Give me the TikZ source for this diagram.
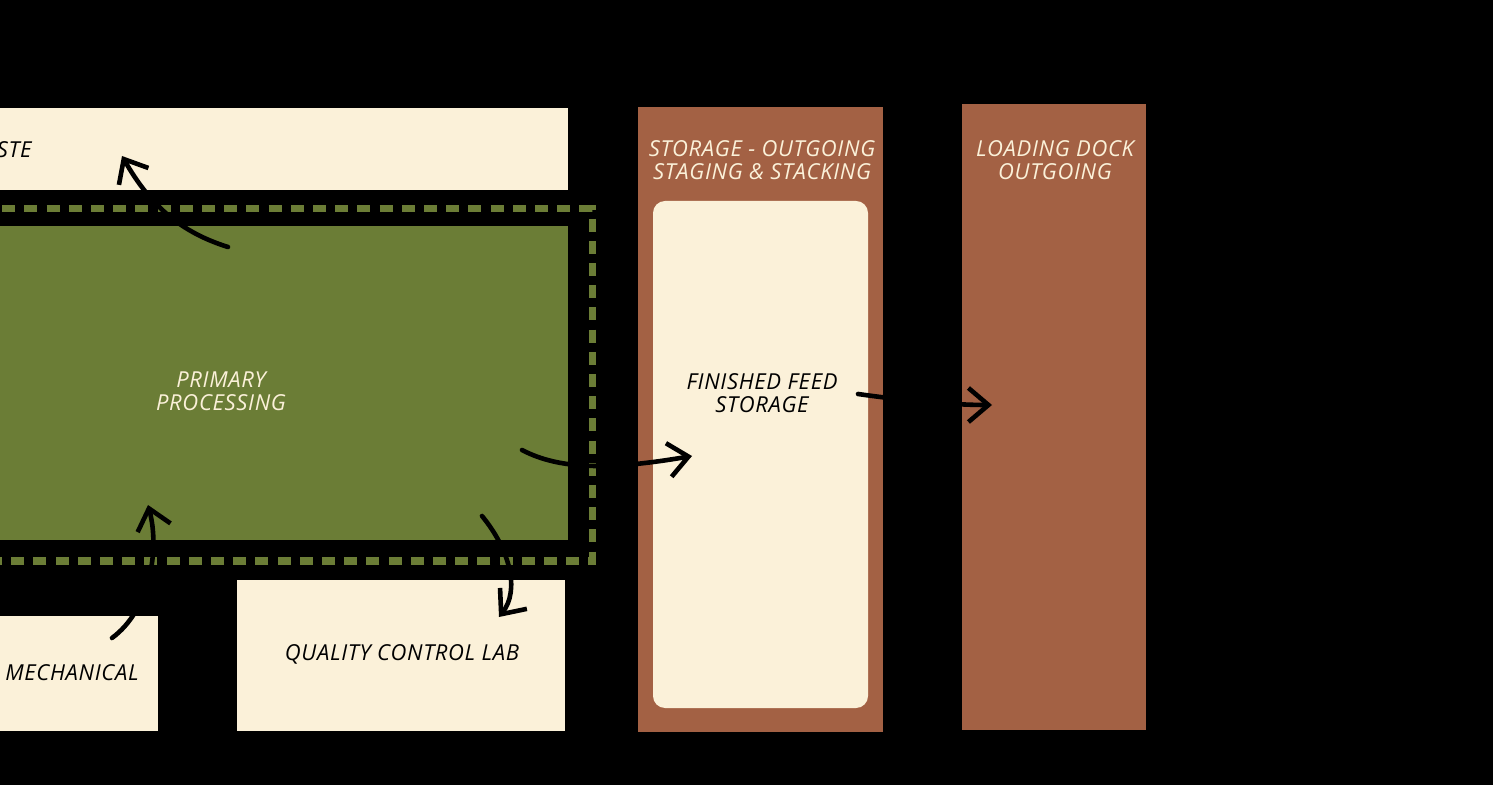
\documentclass[tikz,border=0pt]{standalone}
\usepackage{fontspec}
\setmainfont{Open Sans}[LetterSpace=3]
\usetikzlibrary{arrows.meta}
\definecolor{cream}{RGB}{251,241,217}
\definecolor{pgreen}{RGB}{107,125,54}
\definecolor{pbrown}{RGB}{163,97,68}
\tikzset{
  area/.style={fill=cream, draw=none},
  brownarea/.style={fill=pbrown, draw=none},
  lbl/.style={font=\itshape\fontsize{11}{11.6}\selectfont, align=center, text=black, inner sep=0pt},
  wlbl/.style={lbl, text=cream},
  flow/.style={line width=2.3pt, black, line cap=round,
    -{Straight Barb[length=10pt,width=17pt,line width=2.3pt]}},
}
\begin{document}
\begin{tikzpicture}[x=0.5pt,y=-0.5pt]
\fill[black] (0,0) rectangle (1493,785);
\useasboundingbox (0,0) rectangle (1493,785);
\clip (0,0) rectangle (1493,785);
% waste
\fill[area] (-10,108) rectangle (568,190);
\node[lbl, anchor=base east] (waste) at (32,158) {WASTE};
% processing
\fill[pgreen] (-10,226) rectangle (568,540);
\draw[pgreen, line width=3.5pt, dash pattern=on 6.5pt off 4.6pt] (-20,209) -- (592,209) -- (592,561) -- (-20,561);
\node[wlbl] (proc) at (221,391) {PRIMARY\\PROCESSING};
% mechanical
\fill[area] (-10,616) rectangle (158,731);
\node[lbl] (mech) at (72,673) {MECHANICAL};
% QC
\fill[area] (237,580) rectangle (565,731);
\node[lbl] (qc) at (402,654) {QUALITY CONTROL LAB};
% storage
\fill[brownarea] (638,107) rectangle (883,732);
\node[wlbl] (stortitle) at (762,160) {STORAGE - OUTGOING\\STAGING \& STACKING};
\fill[cream, rounded corners=6pt] (653,201) rectangle (868,708);
\node[lbl] (ffs) at (762,393) {FINISHED FEED\\STORAGE};
% loading dock
\fill[brownarea] (962,104) rectangle (1146,730);
\node[wlbl] (dock) at (1055,160) {LOADING DOCK\\OUTGOING};
% arrow anchors
\coordinate (a1s) at (228,247);
\coordinate (a1e) at (122,156);
\coordinate (a2s) at (112,638);
\coordinate (a2e) at (148,505);
\coordinate (a3s) at (522,450);
\coordinate (a3e) at (692,456);
\coordinate (a4s) at (482,516);
\coordinate (a4e) at (499,617);
\coordinate (a5s) at (858,394);
\coordinate (a5e) at (992,405);
\draw[flow] (a1s) .. controls (180,232) and (150,205) .. (a1e);
\draw[flow] (a2s) .. controls (150,610) and (160,550) .. (a2e);
\draw[flow] (a3s) .. controls (560,470) and (610,470) .. (a3e);
\draw[flow] (a4s) .. controls (510,550) and (520,590) .. (a4e);
\draw[flow] (a5s) .. controls (900,400) and (950,405) .. (a5e);
\end{tikzpicture}
\end{document}
